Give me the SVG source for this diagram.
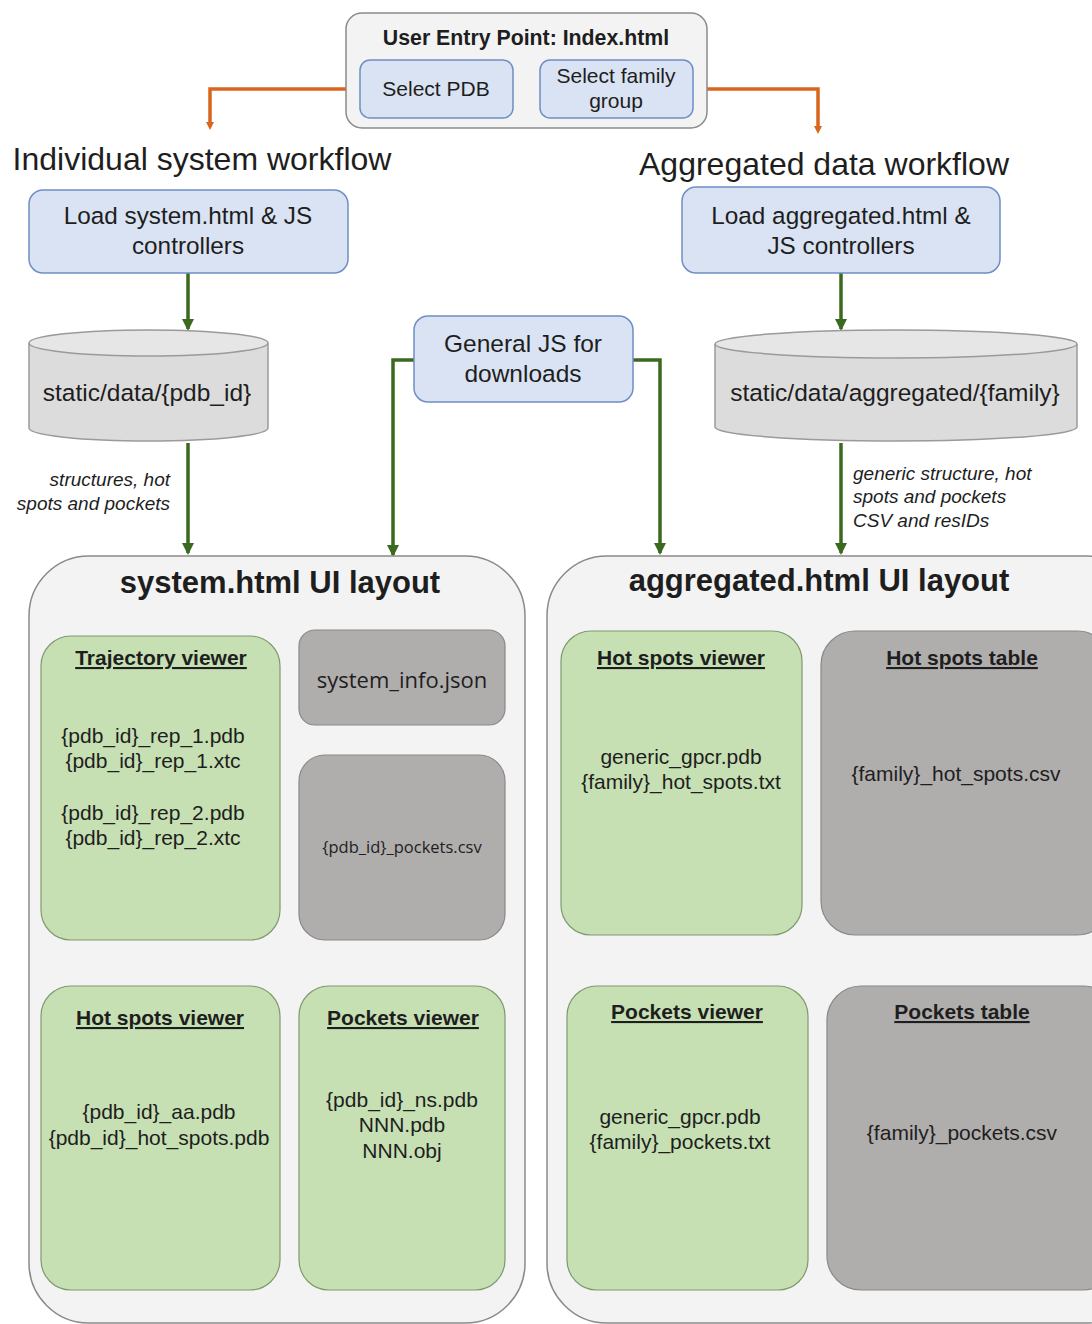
<svg xmlns="http://www.w3.org/2000/svg" width="1092" height="1324" viewBox="0 0 1092 1324">
<defs>
<style>
text{font-family:"Liberation Sans",Arial,sans-serif;fill:#1e1e1e;text-anchor:middle}
.blue{fill:#dae3f3;stroke:#6f8fc4;stroke-width:1.5}
.cont{fill:#f3f3f3;stroke:#8a8a8a;stroke-width:1.5}
.green{fill:#c6e0b4;stroke:#7f9a6e;stroke-width:1.2}
.gray{fill:#b0adad;stroke:#8a8888;stroke-width:1.2}
.cyl{fill:#dcdcdc;stroke:#9a9a9a;stroke-width:1.5}
.og{fill:none;stroke:#d9651e;stroke-width:3.5}
.gr{fill:none;stroke:#3b6a1f;stroke-width:3.5}
.t20{font-size:21px}
.t23{font-size:24.3px}
.t24{font-size:24.5px}
.h{font-size:21px;font-weight:bold;text-decoration:underline}
.big{font-size:31px;font-weight:bold}
.wf{font-size:32px}
.it{font-size:19px;font-style:italic;text-anchor:start}
.calib{font-family:"Open Sans","Liberation Sans",sans-serif}
</style>
<marker id="ao" markerWidth="8" markerHeight="8" refX="4" refY="4" orient="auto" markerUnits="userSpaceOnUse" viewBox="0 0 8 8"><path d="M0,0 L8,4 L0,8 z" fill="#d9651e"/></marker>
<marker id="ag" markerWidth="12" markerHeight="12" refX="10" refY="6" orient="auto" markerUnits="userSpaceOnUse" viewBox="0 0 12 12"><path d="M0,0 L12,6 L0,12 z" fill="#3b6a1f"/></marker>
</defs>

<g id="connectors">
<path class="og" d="M360,89 H210 V126" marker-end="url(#ao)"/>
<path class="og" d="M693,89 H818 V130" marker-end="url(#ao)"/>
<path class="gr" d="M188,273 V329" marker-end="url(#ag)"/>
<path class="gr" d="M841,273 V329" marker-end="url(#ag)"/>
<path class="gr" d="M188,443 V553" marker-end="url(#ag)"/>
<path class="gr" d="M841,443 V553" marker-end="url(#ag)"/>
<path class="gr" d="M414,360 H393 V555" marker-end="url(#ag)"/>
<path class="gr" d="M633,360 H660 V553" marker-end="url(#ag)"/>
</g>

<g id="entry">
<rect class="cont" x="346" y="13" width="361" height="115" rx="16"/>
<text x="526" y="45" style="font-size:21.3px;font-weight:bold">User Entry Point: Index.html</text>
</g>
<g id="select-pdb">
<rect class="blue" x="360" y="60" width="153" height="58" rx="10"/>
<text class="t20" x="436" y="96">Select PDB</text>
</g>
<g id="select-family">
<rect class="blue" x="540" y="60" width="153" height="58" rx="10"/>
<text class="t20" x="616" y="83">Select family</text>
<text class="t20" x="616" y="108">group</text>
</g>

<text class="wf" x="202" y="170">Individual system workflow</text>
<text class="wf" x="824" y="175">Aggregated data workflow</text>

<g id="load-system">
<rect class="blue" x="29" y="190" width="319" height="83" rx="14"/>
<text class="t23" x="188" y="224">Load system.html &amp; JS</text>
<text class="t23" x="188" y="254">controllers</text>
</g>
<g id="load-aggregated">
<rect class="blue" x="682" y="187" width="318" height="86" rx="14"/>
<text class="t23" x="841" y="224">Load aggregated.html &amp;</text>
<text class="t23" x="841" y="254">JS controllers</text>
</g>

<g id="data-pdb">
<path class="cyl" d="M29,343 V428 A119.5,13 0 0 0 268,428 V343"/>
<ellipse class="cyl" cx="148.5" cy="343" rx="119.5" ry="13" style="fill:#e6e6e6"/>
<text class="t24" x="147" y="401">static/data/{pdb_id}</text>
</g>
<g id="data-aggregated">
<path class="cyl" d="M715,344 V427 A181,14 0 0 0 1077,427 V344"/>
<ellipse class="cyl" cx="896" cy="344" rx="181" ry="14" style="fill:#e6e6e6"/>
<text class="t24" x="895" y="401">static/data/aggregated/{family}</text>
</g>

<g id="general-js">
<rect class="blue" x="414" y="316" width="219" height="86" rx="14"/>
<text class="t24" x="523" y="352">General JS for</text>
<text class="t24" x="523" y="382">downloads</text>
</g>

<g id="labels">
<text class="it" x="170" y="486" style="text-anchor:end">structures, hot</text>
<text class="it" x="170" y="510" style="text-anchor:end">spots and pockets</text>
<text class="it" x="853" y="480">generic structure, hot</text>
<text class="it" x="853" y="503">spots and pockets</text>
<text class="it" x="853" y="527">CSV and resIDs</text>
</g>

<g id="system-layout">
<rect class="cont" x="29" y="556" width="496" height="767" rx="60"/>
<text class="big" x="280" y="593">system.html UI layout</text>
</g>
<g id="aggregated-layout">
<rect class="cont" x="547" y="556" width="600" height="767" rx="60"/>
<text class="big" x="819" y="591">aggregated.html UI layout</text>
</g>

<g id="trajectory-viewer">
<rect class="green" x="41" y="636" width="239" height="304" rx="30"/>
<text class="h" x="161" y="665">Trajectory viewer</text>
<text class="t20" x="153" y="743">{pdb_id}_rep_1.pdb</text>
<text class="t20" x="153" y="768">{pdb_id}_rep_1.xtc</text>
<text class="t20" x="153" y="820">{pdb_id}_rep_2.pdb</text>
<text class="t20" x="153" y="845">{pdb_id}_rep_2.xtc</text>
</g>
<g id="system-info">
<rect class="gray" x="299" y="630" width="206" height="95" rx="16"/>
<text class="calib" x="402" y="688" style="font-size:22px">system_info.json</text>
</g>
<g id="pockets-csv">
<rect class="gray" x="299" y="755" width="206" height="185" rx="26"/>
<text class="calib" x="402" y="853" style="font-size:16.5px">{pdb_id}_pockets.csv</text>
</g>
<g id="sys-hotspots-viewer">
<rect class="green" x="41" y="986" width="239" height="304" rx="30"/>
<text class="h" x="160" y="1025">Hot spots viewer</text>
<text class="t20" x="159" y="1119">{pdb_id}_aa.pdb</text>
<text class="t20" x="159" y="1145">{pdb_id}_hot_spots.pdb</text>
</g>
<g id="sys-pockets-viewer">
<rect class="green" x="299" y="986" width="206" height="304" rx="30"/>
<text class="h" x="403" y="1025">Pockets viewer</text>
<text class="t20" x="402" y="1107">{pdb_id}_ns.pdb</text>
<text class="t20" x="402" y="1132">NNN.pdb</text>
<text class="t20" x="402" y="1158">NNN.obj</text>
</g>

<g id="agg-hotspots-viewer">
<rect class="green" x="561" y="631" width="241" height="304" rx="30"/>
<text class="h" x="681" y="665">Hot spots viewer</text>
<text class="t20" x="681" y="764">generic_gpcr.pdb</text>
<text class="t20" x="681" y="789">{family}_hot_spots.txt</text>
</g>
<g id="agg-hotspots-table">
<rect class="gray" x="821" y="631" width="290" height="304" rx="34"/>
<text class="h" x="962" y="665">Hot spots table</text>
<text class="t20" x="956" y="781">{family}_hot_spots.csv</text>
</g>
<g id="agg-pockets-viewer">
<rect class="green" x="567" y="986" width="241" height="304" rx="30"/>
<text class="h" x="687" y="1019">Pockets viewer</text>
<text class="t20" x="680" y="1124">generic_gpcr.pdb</text>
<text class="t20" x="680" y="1149">{family}_pockets.txt</text>
</g>
<g id="agg-pockets-table">
<rect class="gray" x="827" y="986" width="290" height="304" rx="34"/>
<text class="h" x="962" y="1019">Pockets table</text>
<text class="t20" x="962" y="1140">{family}_pockets.csv</text>
</g>
</svg>
